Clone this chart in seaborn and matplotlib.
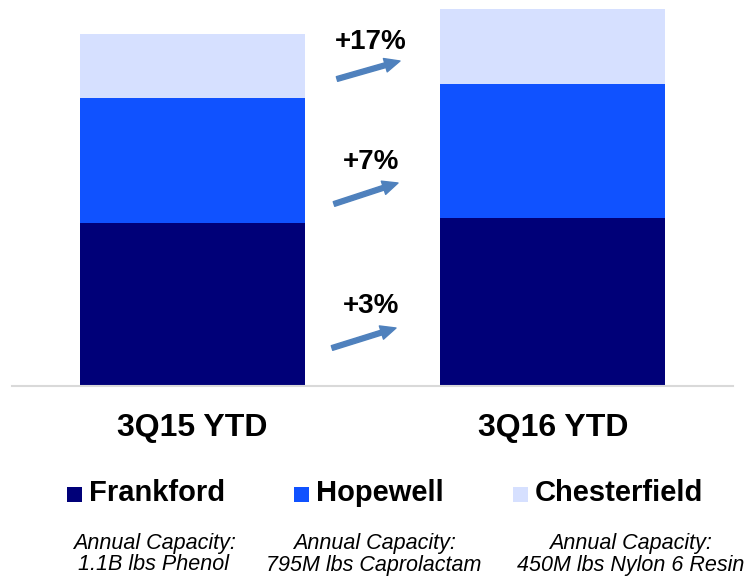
import matplotlib
matplotlib.use("Agg")
import matplotlib.pyplot as plt
import seaborn as sns
import pandas as pd
from matplotlib.patches import Rectangle, FancyArrowPatch

# ---- data ----
periods = ["3Q15 YTD", "3Q16 YTD"]
sites = ["Frankford", "Hopewell", "Chesterfield"]
frankford = [163, 168]
hopewell = [125, 134]
chesterfield = [64, 75]
capacity_line1 = ["Annual Capacity:", "Annual Capacity:", "Annual Capacity:"]
capacity_line2 = ["1.1B lbs Phenol", "795M lbs Caprolactam", "450M lbs Nylon 6 Resin"]
colors = {"Frankford": "#000078", "Hopewell": "#1052FF", "Chesterfield": "#D6E0FF"}

sns.set_theme(style="white")
plt.rcParams["font.family"] = ["Liberation Sans", "DejaVu Sans"]

W, H = 744, 576
fig = plt.figure(figsize=(W / 100, H / 100), dpi=100)
ax = fig.add_axes([12 / W, 1 - 386 / H, 721 / W, 386 / H])

series = {"Frankford": frankford, "Hopewell": hopewell, "Chesterfield": chesterfield}
cum = {}
running = [0, 0]
for s in sites:
    running = [r + v for r, v in zip(running, series[s])]
    cum[s] = list(running)

# draw tallest (cumulative) first so lower segments overlay
for s in reversed(sites):
    df = pd.DataFrame({"period": periods, "value": cum[s]})
    sns.barplot(data=df, x="period", y="value", color=colors[s], width=0.625,
                saturation=1, linewidth=0, edgecolor="none", ax=ax, errorbar=None)

ax.set_xlim(-0.5, 1.5)
ax.set_ylim(0, 386)
ax.set_yticks([])
ax.set_xlabel("")
ax.set_ylabel("")
for sp in ["top", "left", "right"]:
    ax.spines[sp].set_visible(False)
ax.spines["bottom"].set_color("#D9D9D9")
ax.spines["bottom"].set_linewidth(1.5)
ax.tick_params(axis="x", length=0, pad=19.5)
for lab in ax.get_xticklabels():
    lab.set_fontsize(23)
    lab.set_fontweight("bold")
    lab.set_color("black")


def fx(px):
    return px / W


def fy(py):
    return 1 - py / H


# growth labels and arrows
arrows = [((337, 79), (400, 61), 42), ((334, 204), (398, 183), 162), ((332, 348), (396, 328), 306)]
growth_by_seg = [chesterfield, hopewell, frankford]
for (tail, tip, ty), seg in zip(arrows, growth_by_seg):
    pct = round((seg[1] - seg[0]) / seg[0] * 100)
    fig.text(fx(371), fy(ty), f"+{pct}%", ha="center", va="center",
             fontsize=20, fontweight="bold", color="black")
    fig.add_artist(FancyArrowPatch(
        (fx(tail[0]), fy(tail[1])), (fx(tip[0]), fy(tip[1])),
        transform=fig.transFigure,
        arrowstyle="simple,head_length=11,head_width=10,tail_width=3.5",
        mutation_scale=1, color="#4F81BD", shrinkA=0, shrinkB=0))

# legend
sq_x = [67, 294, 513]
for s, x in zip(sites, sq_x):
    fig.add_artist(Rectangle((fx(x), fy(502)), 15 / W, 15 / H, transform=fig.transFigure,
                             facecolor=colors[s], edgecolor="none"))
    fig.text(fx(x + 22), fy(493), s, ha="left", va="center", fontsize=21,
             fontweight="bold", color="black")

note_x = [154, 374, 631]
for l1, l2, x in zip(capacity_line1, capacity_line2, note_x):
    fig.text(fx(x), fy(543), l1, ha="center", va="center", fontsize=15.5,
             style="italic", color="black")
    fig.text(fx(x), fy(565), l2, ha="center", va="center", fontsize=15.5,
             style="italic", color="black")

fig.savefig("out.png", dpi=100)
